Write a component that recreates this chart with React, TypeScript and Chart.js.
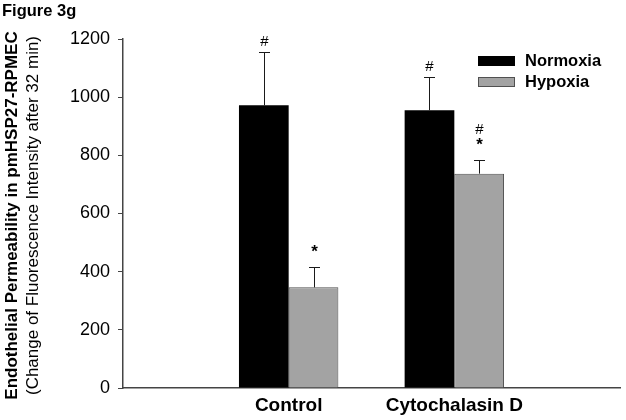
import React, { useEffect, useRef } from "react";
import { Chart, registerables } from "chart.js";

Chart.register(...registerables);

const FONT = "'Liberation Sans', Arial, Helvetica, sans-serif";

const categories = ["Control", "Cytochalasin D"];
const seriesNames = ["Normoxia", "Hypoxia"];
const normoxia = [972, 955];
const normoxiaErr = [182, 113];
const hypoxia = [346, 737];
const hypoxiaErr = [70, 48];
const normoxiaMarks = [["#"], ["#"]];
const hypoxiaMarks = [["*"], ["#", "*"]];
const yTicks = [0, 200, 400, 600, 800, 1000, 1200];
const figureLabel = "Figure 3g";
const yTitleBold = "Endothelial Permeability in pmHSP27-RPMEC";
const yTitleNormal = "(Change of Fluorescence Intensity after 32 min)";

const NORMOXIA_COLOR = "#000000";
const HYPOXIA_COLOR = "#a3a3a3";
const HYPOXIA_BORDER = "#505050";

const pad = (arr: any[]) => [null, ...arr, null];

const overlayPlugin = {
  id: "overlay",
  afterDatasetsDraw(chart: any) {
    const ctx = chart.ctx;
    const y = chart.scales.y;
    const area = chart.chartArea;
    const errs = [normoxiaErr, hypoxiaErr];
    const vals = [normoxia, hypoxia];
    const marks = [normoxiaMarks, hypoxiaMarks];
    ctx.save();
    // error bars + significance marks
    for (let d = 0; d < 2; d++) {
      const meta = chart.getDatasetMeta(d);
      for (let i = 0; i < categories.length; i++) {
        const el = meta.data[i + 1];
        if (!el) continue;
        const x = Math.round(el.x) + 0.5;
        const yTop = y.getPixelForValue(vals[d][i]);
        const yErr = Math.round(y.getPixelForValue(vals[d][i] + errs[d][i])) + 0.5;
        ctx.strokeStyle = "#1a1a1a";
        ctx.lineWidth = 1;
        ctx.beginPath();
        ctx.moveTo(x, yTop);
        ctx.lineTo(x, yErr);
        ctx.moveTo(x - 5.5, yErr);
        ctx.lineTo(x + 5.5, yErr);
        ctx.stroke();
        const m = marks[d][i];
        ctx.fillStyle = "#000";
        ctx.textAlign = "center";
        ctx.textBaseline = "alphabetic";
        let base = 0;
        for (let k = m.length - 1; k >= 0; k--) {
          const isStar = m[k] === "*";
          if (k === m.length - 1) base = yErr - (isStar ? 11 : 7);
          else base -= 16;
          ctx.font = isStar ? `bold 17px ${FONT}` : `15px ${FONT}`;
          ctx.fillText(m[k], x, base);
        }
      }
    }
    // legend
    const colors = [NORMOXIA_COLOR, HYPOXIA_COLOR];
    const bx = area.right - 142;
    for (let s = 0; s < seriesNames.length; s++) {
      const by = 56 + s * 21;
      ctx.fillStyle = colors[s];
      ctx.fillRect(bx, by, 37, 10);
      if (s === 1) {
        ctx.strokeStyle = HYPOXIA_BORDER;
        ctx.lineWidth = 1;
        ctx.strokeRect(bx + 0.5, by + 0.5, 36, 9);
      }
      ctx.fillStyle = "#000";
      ctx.font = `bold 16.5px ${FONT}`;
      ctx.textAlign = "left";
      ctx.textBaseline = "middle";
      ctx.fillText(seriesNames[s], bx + 47, by + 5.5);
    }
    // figure label
    ctx.font = `bold 16.5px ${FONT}`;
    ctx.textAlign = "left";
    ctx.textBaseline = "middle";
    ctx.fillText(figureLabel, 2, 11);
    // y title
    const cy = (area.top + area.bottom) / 2 + 2;
    ctx.translate(0, cy);
    ctx.rotate(-Math.PI / 2);
    ctx.textAlign = "center";
    ctx.textBaseline = "middle";
    ctx.font = `bold 17px ${FONT}`;
    ctx.fillText(yTitleBold, 0, 12);
    ctx.font = `17px ${FONT}`;
    ctx.fillText(yTitleNormal, 0, 33);
    ctx.restore();
  },
};

export default function App() {
  const ref = useRef<HTMLCanvasElement | null>(null);
  useEffect(() => {
    if (!ref.current) return;
    const chart = new Chart(ref.current, {
      type: "bar",
      data: {
        labels: ["", ...categories, ""],
        datasets: [
          {
            label: seriesNames[0],
            data: pad(normoxia),
            backgroundColor: NORMOXIA_COLOR,
            borderWidth: 0,
          },
          {
            label: seriesNames[1],
            data: pad(hypoxia),
            backgroundColor: HYPOXIA_COLOR,
            borderColor: HYPOXIA_BORDER,
            borderWidth: 1,
          },
        ],
      },
      options: {
        animation: false,
        responsive: true,
        maintainAspectRatio: false,
        layout: { padding: { top: 39, right: 3, left: 0, bottom: 0 } },
        plugins: { legend: { display: false }, tooltip: { enabled: false } },
        datasets: { bar: { categoryPercentage: 0.6, barPercentage: 1.0 } },
        scales: {
          x: {
            offset: false,
            grid: { display: false, drawTicks: false },
            border: { display: true, color: "#444", width: 1.5 },
            ticks: {
              color: "#000",
              font: { family: FONT, size: 19, weight: "bold" },
              padding: 6,
              maxRotation: 0,
              autoSkip: false,
            },
            afterFit: (s: any) => {
              s.height = 32;
            },
          },
          y: {
            min: 0,
            max: 1200,
            afterBuildTicks: (s: any) => {
              s.ticks = yTicks.map((v) => ({ value: v }));
            },
            grid: {
              drawOnChartArea: false,
              drawTicks: true,
              tickLength: 5,
              color: "#444",
            },
            border: { display: true, color: "#444", width: 1.5 },
            ticks: {
              color: "#000",
              font: { family: FONT, size: 18 },
              padding: 8,
              callback: (v: any) => String(v),
            },
            afterFit: (s: any) => {
              s.width = 123;
            },
          },
        },
      },
      plugins: [overlayPlugin],
    });
    return () => chart.destroy();
  }, []);
  return (
    <div style={{ position: "absolute", left: 0, top: 0, width: 626, height: 420, background: "#fff" }}>
      <canvas ref={ref} />
    </div>
  );
}
